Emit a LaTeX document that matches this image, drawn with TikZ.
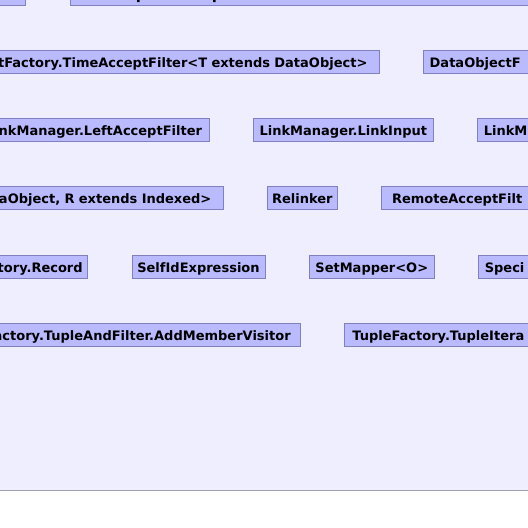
\documentclass[tikz,border=0pt]{standalone}
\usepackage{fontspec}
\setmainfont{DejaVu Sans}
\definecolor{bgc}{RGB}{239,238,255}
\definecolor{boxfill}{RGB}{186,186,255}
\definecolor{boxline}{RGB}{128,128,190}
\definecolor{basegray}{RGB}{160,160,178}
\begin{document}
\begin{tikzpicture}[x=1pt,y=-1pt,
  cls/.style={draw=boxline, fill=boxfill, line width=1pt,
    font=\bfseries\fontsize{13}{15}\selectfont, text=black,
    minimum height=23pt, inner ysep=0pt, outer sep=0pt,
    text height=12pt, text depth=0pt},
  mid/.style={cls, anchor=north west, inner xsep=0pt},
  leftcut/.style={cls, anchor=north east, inner xsep=#1, text width=480pt, align=right},
  rightcut/.style={cls, anchor=north west, inner xsep=#1, text width=300pt, align=left}]
\useasboundingbox (0,0) rectangle (528,528);
\clip (0,0) rectangle (528,528);
\fill[bgc] (0,0) rectangle (528,490.3);
\draw[basegray, line width=1.2pt] (0,490.3) -- (528,490.3);
% top row (cut off)
\node[cls, anchor=south east, minimum width=80pt] (t1) at (25,5.3) {};
\node[cls, anchor=south west, minimum width=520pt] (t2) at (70,5.3) {};
\fill[black] (137,0) rectangle (139.5,2) (213,0) rectangle (215.5,2);
% row 2
\node[leftcut=12.3pt] (r2a) at (379.7,50.3) {tFactory.TimeAcceptFilter<T extends DataObject>};
\node[rightcut=6pt] (r2b) at (423.7,50.3) {DataObjectF};
% row 3
\node[leftcut=7.7pt] (r3a) at (209.7,118.3) {nkManager.LeftAcceptFilter};
\node[mid, minimum width=179.3pt] (r3b) at (253.7,118.3) {LinkManager.LinkInput};
\node[rightcut=6.5pt] (r3c) at (477.3,118.3) {LinkM};
% row 4
\node[leftcut=11.6pt] (r4a) at (223,186.3) {aObject, R extends Indexed>};
\node[mid, minimum width=69.3pt] (r4b) at (267.7,186.3) {Relinker};
\node[rightcut=10.8pt] (r4c) at (381.3,186.3) {RemoteAcceptFilt};
% row 5
\node[leftcut=5pt] (r5a) at (87.7,255) {tory.Record};
\node[mid, minimum width=133pt] (r5b) at (132,255) {SelfIdExpression};
\node[mid, minimum width=125pt] (r5c) at (309.3,255) {SetMapper<O>};
\node[rightcut=6.5pt] (r5d) at (478.3,255) {Speci};
% row 6
\node[leftcut=10pt] (r6a) at (300.7,323.3) {actory.TupleAndFilter.AddMemberVisitor};
\node[rightcut=8pt] (r6b) at (344.3,323.3) {TupleFactory.TupleItera};
\end{tikzpicture}
\end{document}
